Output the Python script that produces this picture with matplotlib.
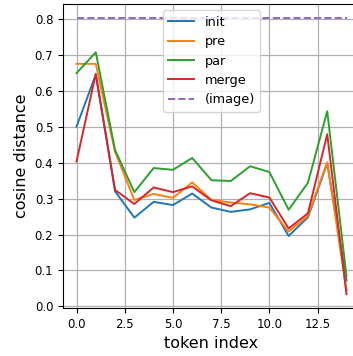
import numpy as np
import matplotlib
matplotlib.use("Agg")
from matplotlib import pyplot as plt

# values
tokens = np.arange(15)
init = [0.500, 0.645, 0.320, 0.247, 0.291, 0.282, 0.314, 0.275, 0.263, 0.270, 0.288, 0.196, 0.248, 0.398, 0.072]
pre = [0.675, 0.675, 0.430, 0.296, 0.313, 0.302, 0.345, 0.296, 0.289, 0.284, 0.275, 0.208, 0.252, 0.401, 0.045]
par = [0.649, 0.707, 0.435, 0.318, 0.385, 0.380, 0.413, 0.351, 0.349, 0.390, 0.374, 0.269, 0.344, 0.543, 0.084]
merge = [0.403, 0.647, 0.324, 0.285, 0.331, 0.318, 0.334, 0.295, 0.279, 0.315, 0.303, 0.217, 0.259, 0.479, 0.034]
image_dist = 0.803

fig = plt.figure(figsize=(3.53, 3.56), dpi=100)
ax = fig.add_axes([63 / 353, 48 / 356, 297 / 353, 304 / 356])

ax.plot(tokens, init, color='tab:blue', lw=1.4, label='init')
ax.plot(tokens, pre, color='tab:orange', lw=1.4, label='pre')
ax.plot(tokens, par, color='tab:green', lw=1.4, label='par')
ax.plot(tokens, merge, color='tab:red', lw=1.4, label='merge')
ax.plot(tokens, [image_dist] * len(tokens), '--', color='tab:purple', lw=1.4, label='(image)')

ax.xaxis.set_major_locator(plt.MultipleLocator(2.5))
ax.xaxis.set_major_formatter(plt.FormatStrFormatter('%.1f'))
ax.grid(True, color='#b0b0b0', lw=0.9)
ax.tick_params(labelsize=8.5)
ax.set_xlabel('token index', fontsize=11.5)
ax.set_ylabel('cosine distance', fontsize=11.5)
ax.legend(loc='upper center', fontsize=9.3)

fig.savefig('out.png', dpi=100)
